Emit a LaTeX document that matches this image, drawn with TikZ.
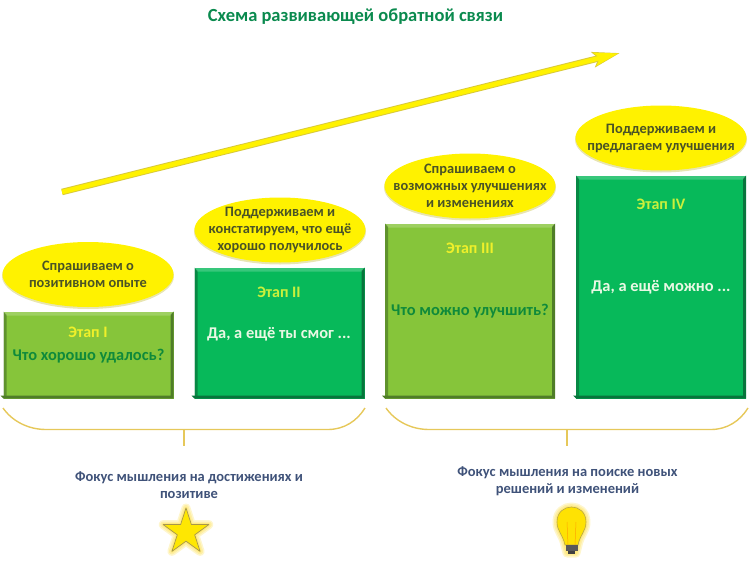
\documentclass[tikz,border=0pt]{standalone}
\usepackage{fontspec}
\setmainfont{Carlito}
\usetikzlibrary{shapes.geometric,arrows.meta}
\definecolor{limebox}{HTML}{86C53A}
\definecolor{limeedge}{HTML}{4F7D28}
\definecolor{greenbox}{HTML}{07B95A}
\definecolor{greenedge}{HTML}{08743C}
\definecolor{ovalfill}{HTML}{FFF200}
\definecolor{ovaltext}{HTML}{4A5326}
\definecolor{bracecol}{HTML}{E6C85A}
\definecolor{focustext}{HTML}{3F5279}
\definecolor{titlegreen}{HTML}{0A8A4E}
\definecolor{limename}{HTML}{EFF02A}
\definecolor{greenname}{HTML}{C9F03C}
\definecolor{limeask}{HTML}{0F8A3A}
\definecolor{greenask}{HTML}{E9F8E4}
\definecolor{arrowedge}{HTML}{D8C93A}
\tikzset{
  stagebox/.style={rectangle,inner sep=0pt,outer sep=0pt,minimum width=170pt},
  limestage/.style={stagebox,fill=limebox},
  greenstage/.style={stagebox,fill=greenbox},
  askoval/.style={ellipse,fill=ovalfill,inner sep=0pt,minimum width=171pt,minimum height=65pt},
  asktext/.style={font=\fontsize{14.4}{17}\bfseries\selectfont,text=ovaltext,align=center,inner sep=0pt},
  stagename/.style={font=\fontsize{16}{18}\bfseries\selectfont,inner sep=0pt},
  stagetext/.style={font=\fontsize{16.4}{18}\bfseries\selectfont,inner sep=0pt},
  focus/.style={font=\fontsize{14.5}{17}\bfseries\selectfont,text=focustext,align=center,inner sep=0pt},
  braceline/.style={draw=bracecol,line width=1.4pt},
  glow/.style={draw=yellow!70!orange,opacity=.2,line join=round}
}
\begin{document}
\begin{tikzpicture}[x=1pt,y=-1pt]
  \useasboundingbox (0,0) rectangle (750,562);
  \node[inner sep=0pt,font=\fontsize{18.5}{20}\bfseries\selectfont,text=titlegreen] (title) at (355.5,17) {Схема развивающей обратной связи};
  % rising arrow
  \coordinate (arrowS) at (62,192);
  \coordinate (arrowE) at (620,53);
  \draw[-{Stealth[length=27pt,width=15pt,inset=5pt]},color=arrowedge,line width=6.5pt] (arrowS) -- (arrowE);
  \draw[-{Stealth[length=24pt,width=13pt,inset=5pt]},color=ovalfill,line width=4.6pt,shorten >=1.5pt] (arrowS) -- (arrowE);
  % stages
  \node[limestage,minimum height=87pt]   (S1) at (88.5,355) {};
  \node[greenstage,minimum height=131pt] (S2) at (279.5,333) {};
  \node[limestage,minimum height=175pt]  (S3) at (470,311) {};
  \node[greenstage,minimum height=223pt] (S4) at (661,287) {};
  \foreach \s/\c in {S1/limeedge,S2/greenedge,S3/limeedge,S4/greenedge}{
    \fill[\c] (\s.north east) -- ++(-3,3) |- ([xshift=-3pt,yshift=3pt]\s.south west) -- (\s.south west) -- (\s.south east) -- cycle;
    \fill[\c,opacity=.7] (\s.north west) -- ++(3,3) -- ([xshift=3pt,yshift=3pt]\s.south west) -- (\s.south west) -- cycle;
    \fill[white,opacity=.2] (\s.north west) -- (\s.north east) -- ++(-3,4) -- ([xshift=3pt,yshift=-4pt]\s.north west) -- cycle;
  }
  \node[stagename,text=limename] at (88,332) {Этап I};
  \node[stagetext,text=limeask] at (88.5,356) {Что хорошо удалось?};
  \node[stagename,text=greenname] at (279,292) {Этап II};
  \node[stagetext,text=greenask] at (279,334) {Да, а ещё ты смог ...};
  \node[stagename,text=limename] at (470,248) {Этап III};
  \node[stagetext,text=limeask] at (470,311.5) {Что можно улучшить?};
  \node[stagename,text=greenname] at (661,204) {Этап IV};
  \node[stagetext,text=greenask] at (661,287.5) {Да, а ещё можно ...};
  % questions
  \foreach \n/\x/\y in {O1/88/274.5,O2/280/230,O3/470/186,O4/661/138}{
    \fill[black!30!ovalfill,opacity=.3] (\x,\y+1.5) ellipse (86pt and 33pt);
    \node[askoval] (\n) at (\x,\y) {};
  }
  \node[asktext] at (O1) {Спрашиваем о\\позитивном опыте};
  \node[asktext] at (O2) {Поддерживаем и\\констатируем, что ещё\\хорошо получилось};
  \node[asktext] at (O3) {Спрашиваем о\\возможных улучшениях\\и изменениях};
  \node[asktext] at (O4) {Поддерживаем и\\предлагаем улучшения};
  % braces
  \coordinate (braceA) at (3,408);
  \coordinate (braceB) at (365,408);
  \coordinate (braceC) at (386,408);
  \coordinate (braceD) at (748,408);
  \coordinate (stemA) at (184,429.5);
  \coordinate (stemB) at (567,429.5);
  \coordinate (footA) at (184,446);
  \coordinate (footB) at (567,446);
  \draw[braceline] (braceA) .. controls (12,421) and (28,429.5) .. (46,429.5) -- (328,429.5) .. controls (344,429.5) and (357,421) .. (braceB);
  \draw[braceline] (braceC) .. controls (395,421) and (411,429.5) .. (429,429.5) -- (711,429.5) .. controls (727,429.5) and (740,421) .. (braceD);
  \draw[braceline] (stemA) -- (footA);
  \draw[braceline] (stemB) -- (footB);
  % focus
  \node[focus] (focusA) at (189,485.5) {Фокус мышления на достижениях и\\позитиве};
  \node[focus] (focusB) at (567.5,481.5) {Фокус мышления на поиске новых\\решений и изменений};
  % star
  \foreach \w in {9,6,3}
    \node[star,star points=5,star point ratio=2.618,minimum size=48pt,inner sep=0pt,glow,line width=\w pt] at (186,532) {};
  \node[star,star points=5,star point ratio=2.618,minimum size=48pt,inner sep=0pt,draw=black!45!yellow!70!brown,fill=yellow!90!orange,line width=.7pt,line join=round] (starA) at (186,532) {};
  % lamp
  \foreach \w in {9,6,3}
    \draw[glow,line width=\w pt] (565,545) .. controls (563,535) and (557,531) .. (557,522) .. controls (557,502) and (586,502) .. (586,522) .. controls (586,531) and (580,535) .. (578,545) -- (576,553) -- (567,553) -- cycle;
  \draw[draw=black!35!yellow!70!brown,fill=yellow!85!orange,line width=.6pt] (565,545) .. controls (563,535) and (557,531) .. (557,522) .. controls (557,502) and (586,502) .. (586,522) .. controls (586,531) and (580,535) .. (578,545) -- cycle;
  \draw[orange!70!yellow,line width=.5pt] (568,545) -- (567,522) (575,545) -- (576,522);
  \fill[black!65] (565.5,545) rectangle (577.5,551);
  \fill[black!75] (568,551) rectangle (575,553.5);
\end{tikzpicture}
\end{document}
